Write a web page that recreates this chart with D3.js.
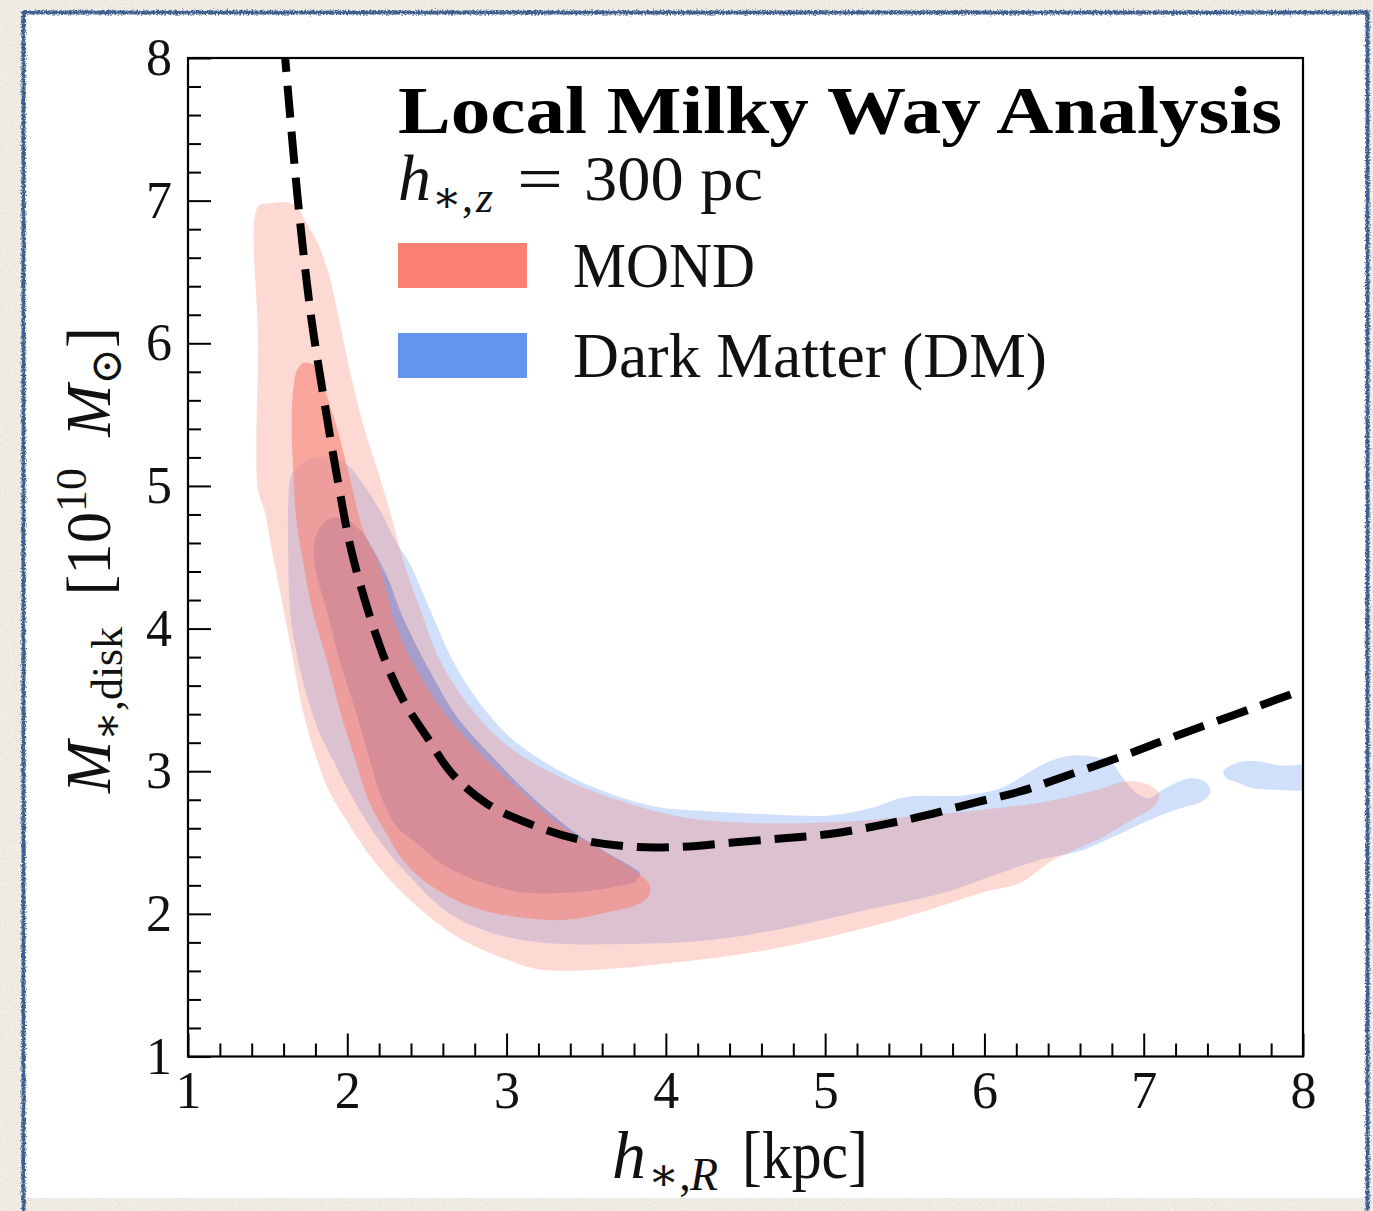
<!DOCTYPE html>
<html>
<head>
<meta charset="utf-8">
<script src="https://cdn.jsdelivr.net/npm/d3@7"></script>
<style>
  html, body { margin: 0; padding: 0; background: #f2efe9; }
  svg { display: block; }
</style>
</head>
<body>
<svg id="chart" width="1373" height="1211"></svg>
<script>
// ---- data: h_{*,R} [kpc] vs M_{*,disk} [1e10 Msun] ----

// dashed reference relation
const curveH = [1.61, 1.69, 1.77, 1.84, 1.94, 2.04, 2.22, 2.35, 2.50, 2.66, 2.88, 3.17, 3.46, 3.79, 4.11, 4.42, 4.74, 5.03, 5.34, 5.63, 5.94, 6.23, 6.52, 6.90, 7.16, 7.43, 7.73, 8.00];
const curveM = [8.00, 7.00, 6.21, 5.70, 5.04, 4.48, 3.83, 3.50, 3.24, 2.98, 2.77, 2.62, 2.52, 2.47, 2.47, 2.50, 2.53, 2.56, 2.62, 2.69, 2.78, 2.86, 2.97, 3.12, 3.23, 3.34, 3.46, 3.57];

// MOND credible regions (outer and inner contour), [h, M]
const mondOuter = [[1.44,6.96],[1.51,6.98],[1.61,6.99],[1.68,6.96],[1.73,6.87],[1.82,6.69],[1.88,6.50],[1.95,6.16],[2.03,5.74],[2.11,5.39],[2.21,5.04],[2.30,4.69],[2.35,4.48],[2.46,4.13],[2.58,3.78],[2.75,3.48],[2.96,3.22],[3.21,3.03],[3.52,2.87],[3.84,2.75],[4.15,2.67],[4.47,2.64],[5.03,2.64],[5.51,2.68],[5.99,2.73],[6.35,2.78],[6.71,2.87],[6.90,2.93],[7.04,2.90],[7.10,2.83],[7.05,2.74],[6.91,2.65],[6.73,2.53],[6.57,2.45],[6.42,2.37],[6.23,2.22],[5.99,2.15],[5.51,1.98],[5.03,1.84],[4.55,1.73],[4.07,1.66],[3.59,1.61],[3.21,1.61],[3.00,1.68],[2.69,1.84],[2.41,2.08],[2.16,2.38],[2.02,2.61],[1.89,2.85],[1.81,3.08],[1.72,3.43],[1.64,3.90],[1.58,4.25],[1.53,4.53],[1.48,4.83],[1.44,4.97],[1.44,6.00]];
const mondInner = [[1.68,5.80],[1.72,5.86],[1.77,5.86],[1.81,5.83],[1.84,5.74],[1.89,5.57],[1.94,5.39],[2.02,5.04],[2.10,4.69],[2.19,4.48],[2.31,4.01],[2.46,3.66],[2.63,3.38],[2.83,3.13],[3.10,2.85],[3.35,2.61],[3.59,2.45],[3.82,2.29],[3.90,2.20],[3.89,2.12],[3.81,2.06],[3.63,2.01],[3.40,1.96],[3.21,1.96],[2.90,2.01],[2.71,2.08],[2.52,2.20],[2.36,2.36],[2.22,2.61],[2.13,2.80],[2.05,3.08],[1.97,3.36],[1.87,3.78],[1.78,4.13],[1.72,4.48],[1.68,4.76],[1.66,5.11],[1.65,5.46],[1.66,5.67]];

// Dark Matter credible regions (outer contour has a detached island), [h, M]
const dmOuter = [[1.81,5.20],[1.91,5.20],[2.00,5.15],[2.10,5.01],[2.21,4.82],[2.30,4.62],[2.39,4.46],[2.52,4.13],[2.66,3.78],[2.83,3.48],[3.04,3.22],[3.32,3.01],[3.63,2.85],[3.94,2.75],[4.26,2.72],[4.59,2.70],[5.03,2.69],[5.28,2.74],[5.51,2.82],[5.87,2.83],[6.10,2.88],[6.29,3.00],[6.41,3.07],[6.55,3.11],[6.69,3.10],[6.79,3.07],[6.87,2.95],[6.95,2.85],[7.03,2.81],[7.12,2.87],[7.29,2.95],[7.38,2.93],[7.42,2.86],[7.37,2.79],[7.23,2.74],[7.02,2.65],[6.81,2.54],[6.60,2.44],[6.35,2.38],[6.11,2.29],[5.75,2.15],[5.27,2.03],[4.79,1.91],[4.31,1.82],[3.84,1.79],[3.21,1.80],[2.90,1.87],[2.63,2.01],[2.41,2.24],[2.21,2.50],[2.04,2.80],[1.91,3.08],[1.81,3.31],[1.69,3.78],[1.64,4.13],[1.63,4.48],[1.63,4.90],[1.65,5.08],[1.72,5.16]];
const dmOuterIsland = [[7.50,3.00],[7.59,3.06],[7.71,3.07],[7.86,3.04],[8.11,3.03],[8.11,2.89],[7.81,2.87],[7.69,2.88],[7.59,2.92],[7.52,2.95]];
const dmInner = [[1.91,4.78],[2.00,4.76],[2.09,4.68],[2.17,4.54],[2.26,4.34],[2.33,4.13],[2.43,3.89],[2.52,3.70],[2.69,3.38],[2.93,3.08],[3.18,2.80],[3.43,2.57],[3.63,2.43],[3.77,2.34],[3.84,2.28],[3.80,2.22],[3.73,2.20],[3.59,2.17],[3.42,2.15],[3.10,2.15],[2.79,2.24],[2.58,2.36],[2.43,2.50],[2.31,2.61],[2.22,2.80],[2.14,3.08],[2.05,3.43],[1.95,3.78],[1.87,4.13],[1.80,4.41],[1.79,4.59],[1.83,4.71]];

// axes
const xTicks = [1, 2, 3, 4, 5, 6, 7, 8];
const yTicks = [1, 2, 3, 4, 5, 6, 7, 8];
const minorStep = 0.2;

// legend / annotation text
const titleText = "Local Milky Way Analysis";
const legendLabels = ["MOND", "Dark Matter (DM)"];
const seriesColors = ["#fa8072", "#6495ed"];

// ---- drawing ----
const W = 1373, H = 1211;
const serif = "'Liberation Serif', 'DejaVu Serif', serif";
const plot = { left: 188, right: 1303, top: 58, bottom: 1056.5 };

const svg = d3.select("#chart");
const defs = svg.append("defs");

defs.append("clipPath").attr("id", "plotClip")
  .append("rect")
  .attr("x", plot.left).attr("y", plot.top)
  .attr("width", plot.right - plot.left).attr("height", plot.bottom - plot.top);

// rough hand-drawn edge for the card border
const rough = defs.append("filter").attr("id", "rough")
  .attr("filterUnits", "userSpaceOnUse").attr("x", 0).attr("y", 0).attr("width", W).attr("height", H);
rough.append("feTurbulence").attr("type", "fractalNoise").attr("baseFrequency", 0.6)
  .attr("numOctaves", 2).attr("seed", 7).attr("result", "noise");
rough.append("feDisplacementMap").attr("in", "SourceGraphic").attr("in2", "noise")
  .attr("scale", 5).attr("xChannelSelector", "R").attr("yChannelSelector", "G");

// faint paper grain
const grain = defs.append("filter").attr("id", "grain")
  .attr("filterUnits", "userSpaceOnUse").attr("x", 0).attr("y", 0).attr("width", W).attr("height", H);
grain.append("feTurbulence").attr("type", "fractalNoise").attr("baseFrequency", 0.7)
  .attr("numOctaves", 2).attr("seed", 2).attr("result", "n");
grain.append("feColorMatrix").attr("in", "n").attr("type", "matrix")
  .attr("values", "0 0 0 0 0.55  0 0 0 0 0.50  0 0 0 0 0.42  0 0 0 -1.2 0.75");
grain.append("feComposite").attr("in2", "SourceGraphic").attr("operator", "in");

// background paper and card
svg.append("rect").attr("width", W).attr("height", H).attr("fill", "#f2efe9");
svg.append("rect").attr("width", W).attr("height", H).attr("fill", "#f2efe9").attr("filter", "url(#grain)").attr("opacity", 0.5);
svg.append("rect").attr("x", 25).attr("y", 14).attr("width", 1341).attr("height", 1184).attr("fill", "#ffffff");
svg.append("path")
  .attr("d", "M23.5,1211 L23.5,12.5 L1367.5,12.5 L1367.5,1211")
  .attr("fill", "none").attr("stroke", "#3c6090").attr("stroke-width", 4)
  .attr("filter", "url(#rough)");

const x = d3.scaleLinear().domain([1, 8]).range([plot.left, plot.right]);
const y = d3.scaleLinear().domain([1, 8]).range([plot.bottom, plot.top]);

const ring = d3.line()
  .x(d => x(d[0])).y(d => y(d[1]))
  .curve(d3.curveCatmullRomClosed.alpha(0.5));

const layer = svg.append("g").attr("clip-path", "url(#plotClip)");

// Dark Matter: outer band (outer minus inner), then inner region
layer.append("path")
  .attr("d", ring(dmOuter) + ring(dmOuterIsland) + ring(dmInner))
  .attr("fill", seriesColors[1]).attr("fill-opacity", 0.3).attr("fill-rule", "evenodd");
layer.append("path")
  .attr("d", ring(dmInner))
  .attr("fill", seriesColors[1]).attr("fill-opacity", 0.8);

// MOND on top
layer.append("path")
  .attr("d", ring(mondOuter) + ring(mondInner))
  .attr("fill", seriesColors[0]).attr("fill-opacity", 0.3).attr("fill-rule", "evenodd");
layer.append("path")
  .attr("d", ring(mondInner))
  .attr("fill", seriesColors[0]).attr("fill-opacity", 0.7);

// dashed relation
const curvePts = curveH.map((h, i) => [h, curveM[i]]);
layer.append("path")
  .attr("d", d3.line().x(d => x(d[0])).y(d => y(d[1])).curve(d3.curveCatmullRom.alpha(0.5))(curvePts))
  .attr("fill", "none").attr("stroke", "#000").attr("stroke-width", 8)
  .attr("stroke-dasharray", "32,14").attr("stroke-dashoffset", 18);

// axes: major and minor ticks point inward
const minorVals = d3.range(1, 8.0001, minorStep).filter(v => Math.abs(v - Math.round(v)) > 1e-6);

function styleAxis(g) {
  g.select(".domain").remove();
  g.selectAll(".tick line").attr("stroke", "#000").attr("stroke-width", 2);
  g.selectAll("text").attr("font-family", serif).attr("font-size", 52).attr("fill", "#111");
}

svg.append("g").attr("transform", `translate(0,${plot.bottom})`)
  .call(d3.axisBottom(x).tickValues(minorVals).tickSize(-13).tickFormat(""))
  .call(styleAxis);
svg.append("g").attr("transform", `translate(0,${plot.bottom})`)
  .call(d3.axisBottom(x).tickValues(xTicks).tickSize(-23).tickPadding(15).tickFormat(d3.format("d")))
  .call(styleAxis);
svg.append("g").attr("transform", `translate(${plot.left},0)`)
  .call(d3.axisLeft(y).tickValues(minorVals).tickSize(-13).tickFormat(""))
  .call(styleAxis);
svg.append("g").attr("transform", `translate(${plot.left},0)`)
  .call(d3.axisLeft(y).tickValues(yTicks).tickSize(-23).tickPadding(16).tickFormat(d3.format("d")))
  .call(styleAxis);

// frame
svg.append("rect")
  .attr("x", plot.left).attr("y", plot.top)
  .attr("width", plot.right - plot.left).attr("height", plot.bottom - plot.top)
  .attr("fill", "none").attr("stroke", "#000").attr("stroke-width", 2.2);

// title and annotation
svg.append("text").attr("x", 398).attr("y", 133)
  .attr("font-family", serif).attr("font-weight", "bold").attr("font-size", 67)
  .attr("textLength", 884).attr("lengthAdjust", "spacingAndGlyphs")
  .attr("fill", "#000").text(titleText);

const ann = svg.append("g").attr("font-family", serif).attr("fill", "#111");
ann.append("text").attr("x", 398).attr("y", 200).attr("font-size", 66).attr("font-style", "italic").text("h");
ann.append("text").attr("x", 432).attr("y", 212).attr("font-size", 44).text("∗,");
ann.append("text").attr("x", 476).attr("y", 212).attr("font-size", 44).attr("font-style", "italic").text("z");
ann.append("text").attr("x", 517).attr("y", 200).attr("font-size", 64)
  .attr("textLength", 46).attr("lengthAdjust", "spacingAndGlyphs").text("=");
ann.append("text").attr("x", 584).attr("y", 200).attr("font-size", 64)
  .attr("textLength", 179).attr("lengthAdjust", "spacingAndGlyphs").text("300 pc");

// legend
const legend = svg.append("g");
legendLabels.forEach((lab, i) => {
  const top = 243 + i * 90;
  legend.append("rect").attr("x", 398).attr("y", top).attr("width", 129).attr("height", 45)
    .attr("fill", seriesColors[i]);
  legend.append("text").attr("x", 573).attr("y", top + 44)
    .attr("font-family", serif).attr("font-size", 63).attr("fill", "#111")
    .attr("textLength", i === 0 ? 182 : 474).attr("lengthAdjust", "spacingAndGlyphs")
    .text(lab);
});

// x-axis label: h_{*,R} [kpc]
const xl = svg.append("g").attr("font-family", serif).attr("fill", "#111");
xl.append("text").attr("x", 612).attr("y", 1178).attr("font-size", 68).attr("font-style", "italic").text("h");
xl.append("text").attr("x", 648).attr("y", 1190).attr("font-size", 46).text("∗,");
xl.append("text").attr("x", 690).attr("y", 1190).attr("font-size", 46).attr("font-style", "italic").text("R");
xl.append("text").attr("x", 742).attr("y", 1178).attr("font-size", 68)
  .attr("textLength", 126).attr("lengthAdjust", "spacingAndGlyphs").text("[kpc]");

// y-axis label: M_{*,disk} [10^10 M_sun], rotated
const yl = svg.append("text")
  .attr("transform", "translate(110,560) rotate(-90)")
  .attr("text-anchor", "middle")
  .attr("font-family", serif).attr("font-size", 64).attr("fill", "#111");
yl.append("tspan").attr("font-style", "italic").text("M");
yl.append("tspan").attr("font-size", "0.7em").attr("dy", "0.28em").text("∗,disk");
yl.append("tspan").attr("dy", "-0.2em").text("\u2002[10");
yl.append("tspan").attr("font-size", "0.7em").attr("dy", "-0.55em").text("10");
yl.append("tspan").attr("dy", "0.385em").text("\u2002");
yl.append("tspan").attr("font-style", "italic").text("M");
yl.append("tspan").attr("font-size", "0.7em").attr("dy", "0.25em").text("⊙");
yl.append("tspan").attr("dy", "-0.175em").text("]");
const ylLen = yl.node().getComputedTextLength();
yl.attr("font-size", 64 * 466 / ylLen);
</script>
</body>
</html>
